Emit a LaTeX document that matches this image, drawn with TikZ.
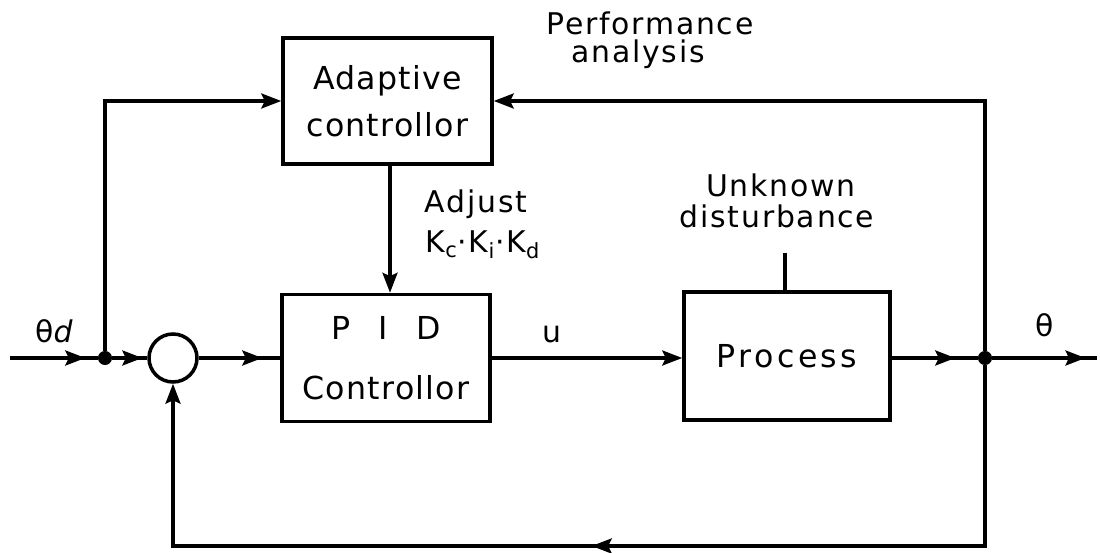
\documentclass[tikz,border=0pt]{standalone}
\usepackage{fontspec}
\setmainfont{DejaVu Sans}
\usetikzlibrary{arrows.meta,decorations.markings}
\begin{document}
\begin{tikzpicture}[x=0.02cm,y=-0.02cm,
  wire/.style={line width=1.9pt},
  arrowend/.style={-{Stealth[length=4mm,width=3mm,inset=0.7mm]}},
  arrowat/.style={postaction={decorate},decoration={markings,
      mark=at position #1 with {\arrow{Stealth[length=4mm,width=3mm,inset=0.7mm]}}}},
  blockbox/.style={draw,line width=2pt,inner sep=0pt,align=center,
      font=\fontsize{18}{27}\selectfont\addfontfeature{LetterSpace=4}},
  lbl/.style={font=\fontsize{17}{22}\selectfont\addfontfeature{LetterSpace=6},
      inner sep=0pt,anchor=base},
  junction/.style={circle,fill,inner sep=0pt,minimum size=8pt},
  sumpoint/.style={draw,circle,line width=2pt,inner sep=0pt,minimum size=0.96cm}
]
\useasboundingbox (0,0) rectangle (1100,553);

% blocks
\node[blockbox,minimum width=4.18cm,minimum height=2.52cm] (ad) at (387.5,101)
  {Adaptive\\controllor};
\node[blockbox,minimum width=4.16cm,minimum height=2.54cm] (pid) at (386,358)
  {P\hspace{0.9em}I\hspace{0.9em}D\\[7pt]Controllor};
\node[blockbox,minimum width=4.12cm,minimum height=2.56cm] (proc) at (787,356)
  {\addfontfeature{LetterSpace=11}Process};
\node[sumpoint] (sum) at (173,358) {};

% branch points and free ends
\node[junction] (j1) at (105,358) {};
\node[junction] (j2) at (985,358) {};
\coordinate (in) at (10,358);
\coordinate (out) at (1097,358);
\coordinate (fbl) at (173,546);
\coordinate (dist) at (785,253);

% forward path
\draw[wire,arrowat=0.86] (in) -- (j1);
\draw[wire,arrowat=0.86] (j1) -- (sum.west);
\draw[wire,arrowat=0.78] (sum.east) -- (pid.west);
\draw[wire,arrowend] (pid.east) -- (pid.east -| proc.west);
\draw[wire,arrowat=0.74] (proc.east |- j2) -- (j2);
\draw[wire,arrowat=0.89] (j2) -- (out);

% adaptive loop
\draw[wire,arrowend] (j1) |- (ad.west);
\draw[wire,arrowend] (j2) |- (ad.east);
\draw[wire,arrowend] (ad.south -| 390,0) -- (pid.north -| 390,0);

% unity feedback
\draw[wire,arrowat=0.497,arrowend] (j2) |- (fbl) -- (sum.south);

% disturbance input
\draw[wire] (dist) -- (dist |- proc.north);

% labels (placed on their baselines)
\node[lbl] (thd) at (55,343) {θ\textit{d}};
\node[lbl] (ulbl) at (552,343) {u};
\node[lbl] (th) at (1045,337) {θ};
\node[lbl] (perf) at (650,35) {Performance};
\node[lbl] (ana) at (638,63) {analysis};
\node[lbl] (adj) at (476,213) {Adjust};
\node[lbl] (gains) at (483,253) {K\textsubscript{c}·K\textsubscript{i}·K\textsubscript{d}};
\node[lbl] (unk) at (781,197) {Unknown};
\node[lbl] (dis) at (777,228) {disturbance};
\end{tikzpicture}
\end{document}
